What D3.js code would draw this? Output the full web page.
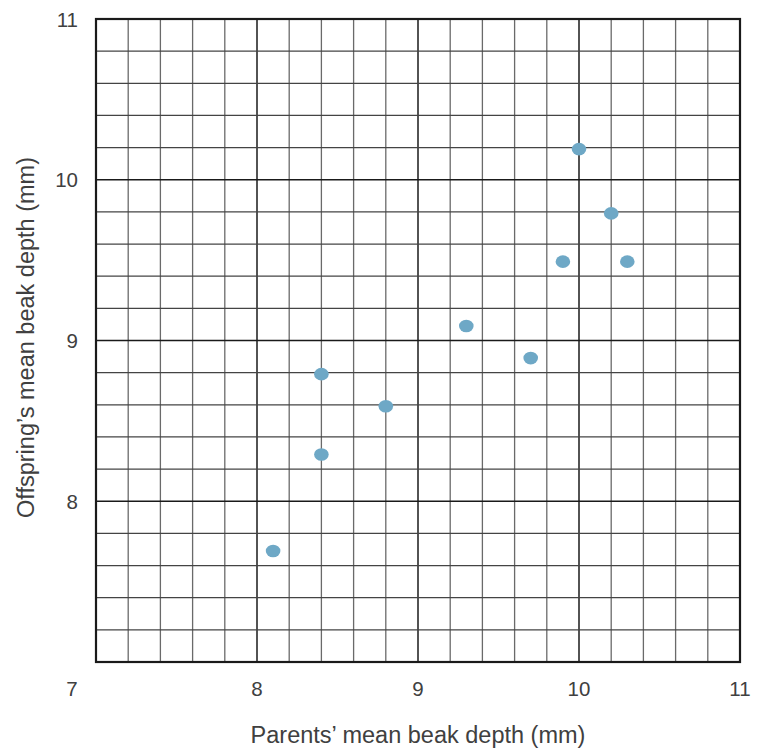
<!DOCTYPE html>
<html>
<head>
<meta charset="utf-8">
<script src="https://cdn.jsdelivr.net/npm/d3@7"></script>
<style>
  body { margin: 0; background: #fff; }
  text { font-family: "Liberation Sans", Arial, sans-serif; fill: #404040; }
</style>
</head>
<body>
<div id="wrapper"></div>
<script>
const parentDepth = [8.1, 8.4, 8.4, 8.8, 9.3, 9.7, 9.9, 10.0, 10.2, 10.3]
const offspringDepth = [7.7, 8.3, 8.8, 8.6, 9.1, 8.9, 9.5, 10.2, 9.8, 9.5]
const xTicks = [7, 8, 9, 10, 11]
const yTicks = [8, 9, 10, 11]
const xTitle = "Parents\u2019 mean beak depth (mm)"
const yTitle = "Offspring\u2019s mean beak depth (mm)"

function drawChart() {
    const dimensions = {
        width: 757,
        height: 748,
        margin: {top: 19, right: 17, bottom: 86, left: 96},
    }
    dimensions.boundedWidth = dimensions.width - dimensions.margin.left - dimensions.margin.right
    dimensions.boundedHeight = dimensions.height - dimensions.margin.top - dimensions.margin.bottom

    const svg = d3.select("#wrapper")
        .append("svg")
        .attr("width", dimensions.width)
        .attr("height", dimensions.height)
    const bounds = svg.append("g")
        .attr("transform", `translate(${dimensions.margin.left},${dimensions.margin.top})`)

    const xScale = d3.scaleLinear().domain([7, 11]).range([0, dimensions.boundedWidth])
    const yScale = d3.scaleLinear().domain([7, 11]).range([dimensions.boundedHeight, 0])

    // grid: minor every 0.2, major at integers
    const minor = d3.range(7, 11.001, 0.2).map(d => Math.round(d * 10) / 10)
    const isMajor = d => Math.abs(d - Math.round(d)) < 1e-6

    bounds.selectAll(".vgrid")
        .data(minor)
        .join("line")
        .attr("x1", d => xScale(d)).attr("x2", d => xScale(d))
        .attr("y1", 0).attr("y2", dimensions.boundedHeight)
        .attr("stroke", d => isMajor(d) ? "#1a1a1a" : "#6a6a6a")
        .attr("stroke-width", d => isMajor(d) ? 1.5 : 1.3)

    bounds.selectAll(".hgrid")
        .data(minor)
        .join("line")
        .attr("y1", d => yScale(d)).attr("y2", d => yScale(d))
        .attr("x1", 0).attr("x2", dimensions.boundedWidth)
        .attr("stroke", d => isMajor(d) ? "#1a1a1a" : "#444")
        .attr("stroke-width", d => isMajor(d) ? 1.5 : 1.3)

    bounds.append("rect")
        .attr("width", dimensions.boundedWidth)
        .attr("height", dimensions.boundedHeight)
        .attr("fill", "none")
        .attr("stroke", "#1a1a1a")
        .attr("stroke-width", 2.2)

    // points
    bounds.selectAll("ellipse")
        .data(parentDepth.map((d, i) => [d, offspringDepth[i]]))
        .join("ellipse")
        .attr("cx", d => xScale(d[0]))
        .attr("cy", d => yScale(d[1]) + 1.5)
        .attr("rx", 7.3)
        .attr("ry", 6.3)
        .attr("fill", "#6ea8c6")

    // tick labels
    bounds.selectAll(".xlabel")
        .data(xTicks)
        .join("text")
        .attr("x", d => d === 7 ? xScale(d) - 24 : xScale(d))
        .attr("y", dimensions.boundedHeight + 34)
        .attr("text-anchor", "middle")
        .style("font-size", "20.5px")
        .text(d => d)

    bounds.selectAll(".ylabel")
        .data(yTicks)
        .join("text")
        .attr("x", -18)
        .attr("y", d => yScale(d) + 7.5)
        .attr("text-anchor", "end")
        .style("font-size", "20.5px")
        .text(d => d)

    // titles
    bounds.append("text")
        .attr("x", dimensions.boundedWidth / 2)
        .attr("y", dimensions.boundedHeight + 81)
        .attr("text-anchor", "middle")
        .style("font-size", "23.5px")
        .text(xTitle)

    bounds.append("text")
        .attr("transform", `translate(-62,${dimensions.boundedHeight / 2 - 3}) rotate(-90)`)
        .attr("text-anchor", "middle")
        .style("font-size", "23.5px")
        .text(yTitle)
}

drawChart()
</script>
</body>
</html>
